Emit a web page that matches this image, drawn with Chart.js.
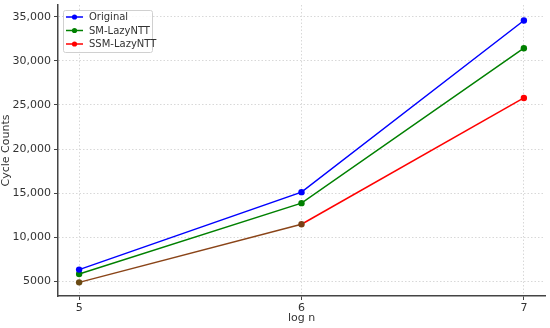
<!DOCTYPE html>
<html>
<head>
<meta charset="utf-8">
<script src="https://cdn.jsdelivr.net/npm/chart.js@4.4.0/dist/chart.umd.min.js"></script>
<style>
  html, body { margin: 0; padding: 0; background: #fff; }
  #wrap { width: 550px; height: 328px; }
</style>
</head>
<body>
<div id="wrap"><canvas id="chart" width="550" height="328"></canvas></div>
<script>
const logN = [5, 6, 7];
const original = [6300, 15100, 34600];
const smLazy = [5800, 13850, 31450];
const ssmLazy = [4850, 11450, 25800];
const yTicks = [5000, 10000, 15000, 20000, 25000, 30000, 35000];

const FONT = 'DejaVu Sans';

function toPoints(vals) {
  return vals.map((v, i) => ({ x: logN[i], y: v }));
}

// legend drawn inside the plot, top-left, matplotlib style
const innerLegend = {
  id: 'innerLegend',
  afterDraw(chart) {
    const ctx = chart.ctx;
    const area = chart.chartArea;
    const x = area.left + 5, y = area.top + 5, w = 89, h = 42;
    ctx.save();
    ctx.fillStyle = 'rgba(255,255,255,0.85)';
    ctx.strokeStyle = '#d0d0d0';
    ctx.lineWidth = 1;
    ctx.beginPath();
    ctx.roundRect(x + 0.5, y + 0.5, w, h, 2);
    ctx.fill();
    ctx.stroke();
    ctx.font = '10px ' + FONT;
    ctx.textBaseline = 'middle';
    chart.data.datasets.forEach((ds, i) => {
      const ry = y + 7 + i * 13.5;
      ctx.strokeStyle = ds.borderColor;
      ctx.lineWidth = 1.5;
      ctx.beginPath();
      ctx.moveTo(x + 3, ry);
      ctx.lineTo(x + 20, ry);
      ctx.stroke();
      ctx.fillStyle = ds.borderColor;
      ctx.beginPath();
      ctx.arc(x + 11.5, ry, 2.6, 0, Math.PI * 2);
      ctx.fill();
      ctx.fillStyle = '#333';
      ctx.fillText(ds.label, x + 26, ry + 0.5);
    });
    ctx.restore();
  }
};

new Chart(document.getElementById('chart'), {
  type: 'line',
  data: {
    datasets: [
      {
        label: 'Original',
        data: toPoints(original),
        borderColor: '#0000ff',
        backgroundColor: '#0000ff',
        borderWidth: 1.5,
        pointRadius: 3.2,
        pointBorderWidth: 0,
        pointHoverRadius: 3
      },
      {
        label: 'SM-LazyNTT',
        data: toPoints(smLazy),
        borderColor: '#008000',
        backgroundColor: '#008000',
        borderWidth: 1.5,
        pointRadius: 3.2,
        pointBorderWidth: 0,
        pointHoverRadius: 3
      },
      {
        label: 'SSM-LazyNTT',
        data: toPoints(ssmLazy),
        borderColor: '#ff0000',
        backgroundColor: '#ff0000',
        pointBackgroundColor: ['#6a4a14', '#7a4016', '#ff0000'],
        pointBorderColor: ['#6a4a14', '#7a4016', '#ff0000'],
        borderWidth: 1.5,
        pointRadius: 3.2,
        pointBorderWidth: 0,
        pointHoverRadius: 3,
        segment: {
          borderColor: c => c.p0DataIndex < 1 ? '#8a4418' : undefined
        }
      }
    ]
  },
  options: {
    responsive: false,
    animation: false,
    layout: { padding: { top: 5, right: 5, left: 0, bottom: 0 } },
    plugins: {
      legend: { display: false },
      tooltip: { enabled: false }
    },
    scales: {
      x: {
        type: 'linear',
        min: 4.905,
        max: 7.095,
        afterBuildTicks: s => { s.ticks = logN.map(v => ({ value: v })); },
        afterFit: s => { s.height = 32; s.paddingLeft = 0; s.paddingRight = 0; },
        ticks: {
          color: '#333',
          font: { family: FONT, size: 11 },
          padding: 2,
          maxRotation: 0,
          callback: v => String(v)
        },
        grid: {
          color: '#d8d8d8',
          tickColor: '#444',
          tickLength: 4,
          tickBorderDash: []
        },
        border: { color: '#444', width: 1.5, dash: [1.5, 2] },
        title: {
          display: true,
          text: 'log n',
          color: '#333',
          font: { family: FONT, size: 11 },
          padding: { top: 0, bottom: 3 }
        }
      },
      y: {
        min: 3300,
        max: 36360,
        afterBuildTicks: s => { s.ticks = yTicks.map(v => ({ value: v })); },
        afterFit: s => { s.width = 58; s.paddingTop = 0; s.paddingBottom = 0; },
        ticks: {
          color: '#333',
          font: { family: FONT, size: 11 },
          padding: 3,
          callback: v => v >= 10000 ? v.toLocaleString('en-US') : String(v)
        },
        grid: {
          color: '#d8d8d8',
          tickColor: '#444',
          tickLength: 4,
          tickBorderDash: []
        },
        border: { color: '#444', width: 1.5, dash: [1.5, 2] },
        title: {
          display: true,
          text: 'Cycle Counts',
          color: '#333',
          font: { family: FONT, size: 11 },
          padding: { top: 0, bottom: 0 }
        }
      }
    }
  },
  plugins: [innerLegend]
});
</script>
</body>
</html>
